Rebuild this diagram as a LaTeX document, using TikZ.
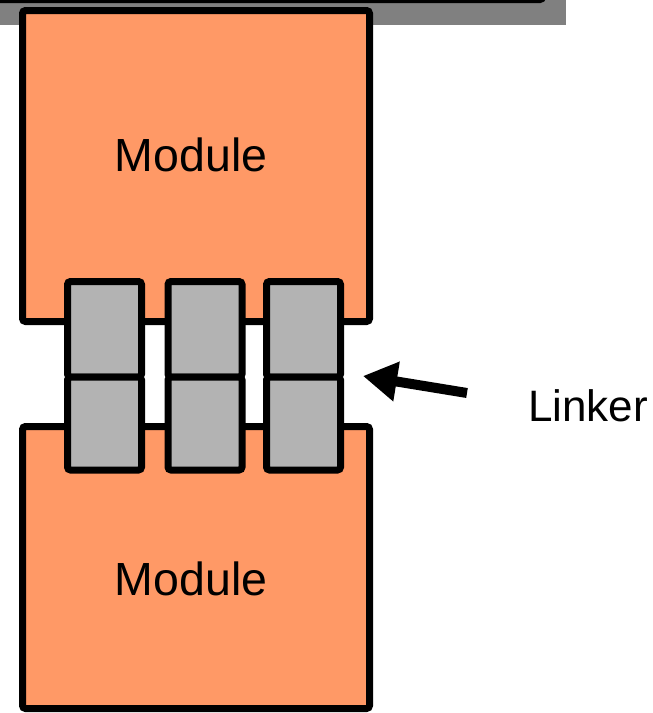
\documentclass[tikz,border=0pt]{standalone}
\usepackage{fontspec}
\setmainfont{Liberation Sans}
\usetikzlibrary{arrows.meta}
\definecolor{modorange}{HTML}{FF9966}
\definecolor{linkgray}{HTML}{B3B3B3}
\definecolor{bargray}{HTML}{808080}
\begin{document}
\begin{tikzpicture}[x=1pt,y=-1pt,
  modbox/.style={draw=black,fill=modorange,line width=7pt,rounded corners=3pt},
  linkbox/.style={draw=black,fill=linkgray,line width=7pt,rounded corners=3pt},
  lbl/.style={font=\fontsize{46.5}{50}\selectfont,inner sep=0pt}]
\useasboundingbox (0,0) rectangle (653,713);
\clip (0,0) rectangle (653,713);
% top bar
\fill[bargray] (0,-20) rectangle (566,25);
\draw[line width=6pt,rounded corners=3pt] (-10,-20) -- (-10,0) -- (543,0) -- (543,-20);
% modules
\draw[modbox] (22.5,10.5) rectangle (369.5,321.5);
\draw[modbox] (22.5,426.5) rectangle (369.5,708.5);
\node[lbl] (m1) at (191,155) {Module};
\node[lbl] (m2) at (191,579) {Module};
% linkers
\foreach \x/\n in {67.5/a,168/b,266.5/c}{
  \draw[linkbox] (\x,281.5) rectangle ++(74,95.5);
  \draw[linkbox] (\x,377) rectangle ++(74,93);
}
% arrow and label
\node[lbl,font=\fontsize{44}{50}\selectfont] (linker) at (588,406) {Linker};
\coordinate (tail) at (467,393);
\coordinate (tip) at (363,376);
\draw[line width=10pt,-{Triangle[length=34pt,width=38pt]}] (tail) -- (tip);
\end{tikzpicture}
\end{document}
